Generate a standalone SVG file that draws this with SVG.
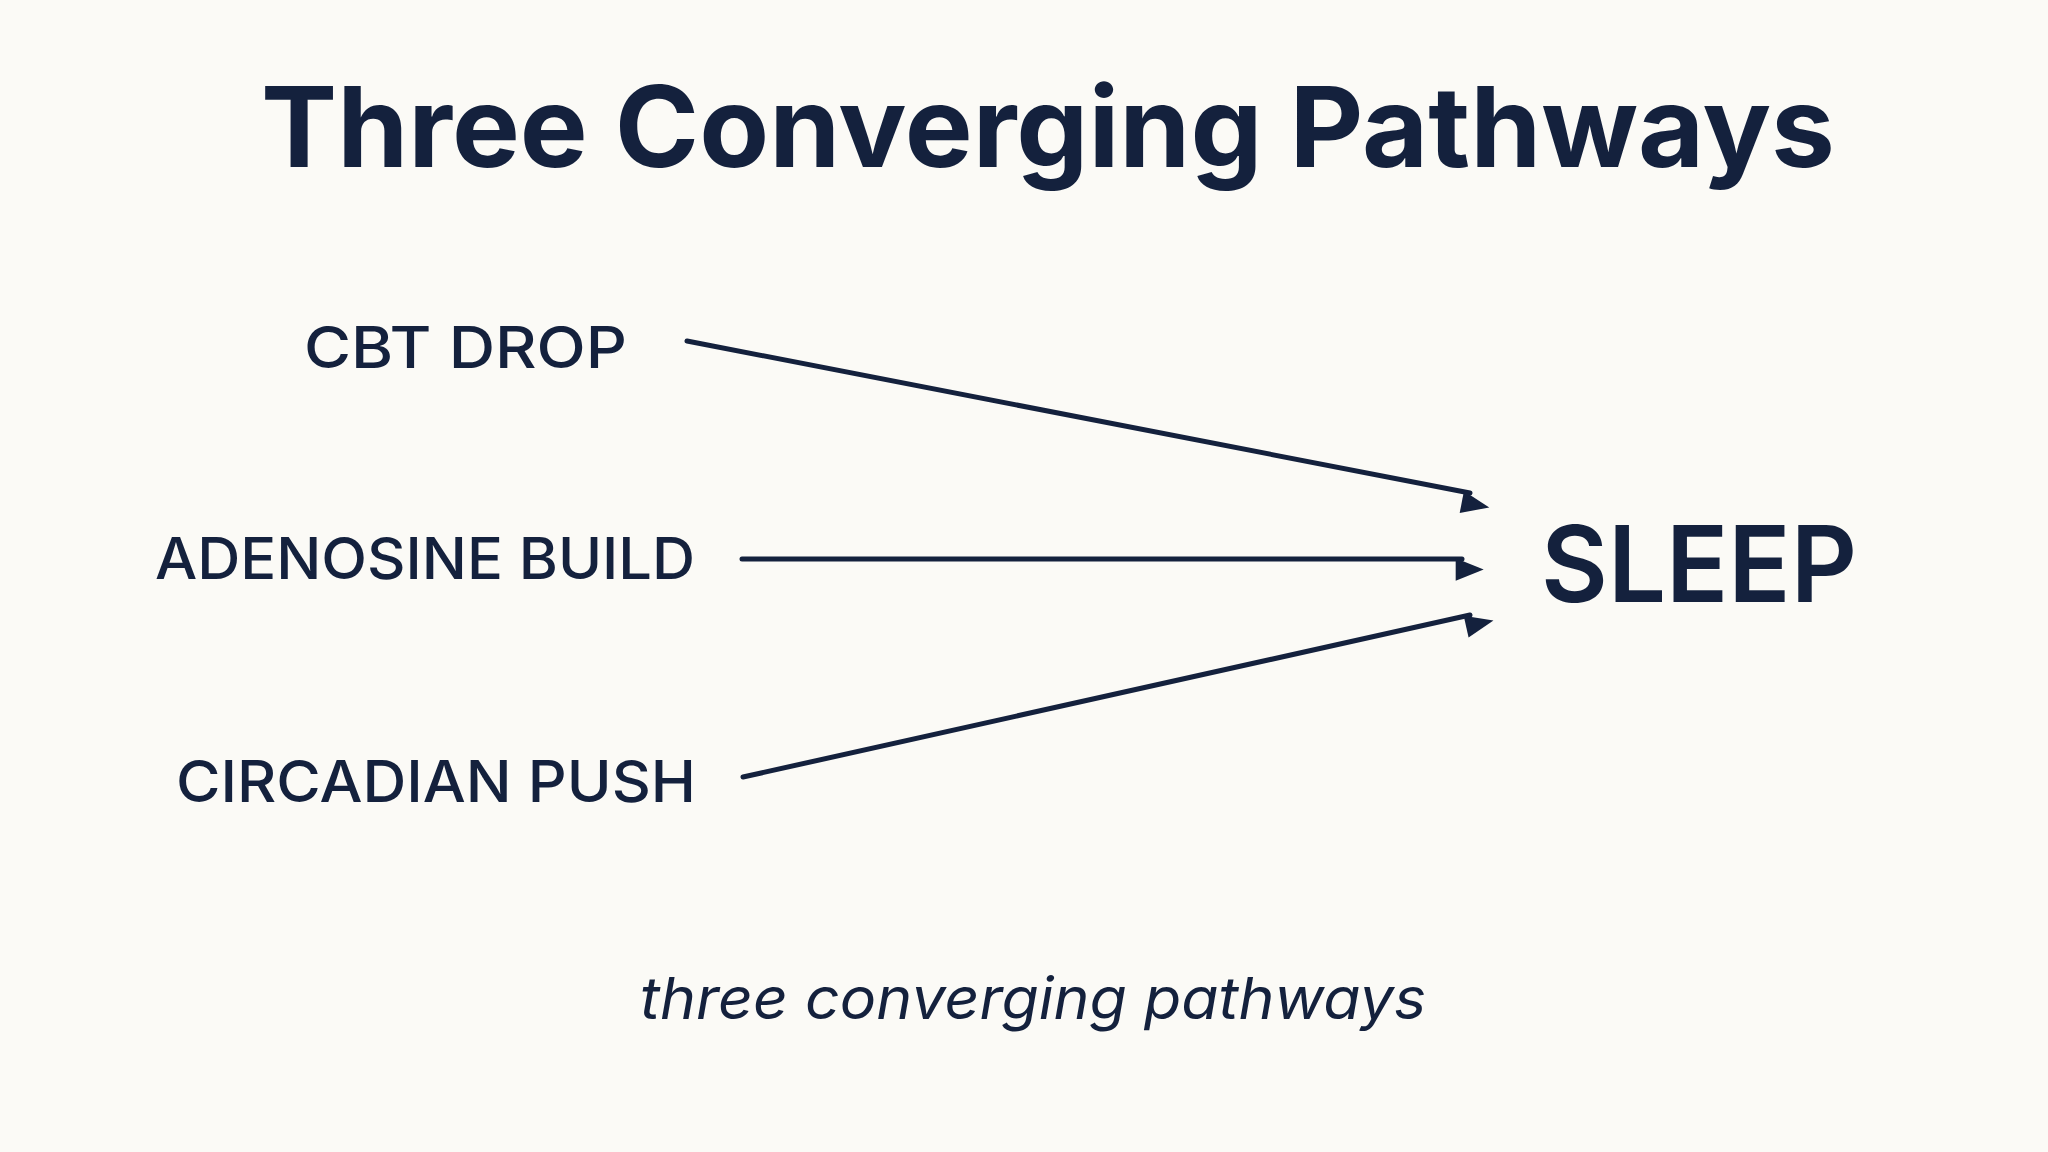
<svg xmlns="http://www.w3.org/2000/svg" width="2048" height="1152" viewBox="0 0 2048 1152">
<defs>
<style>
.t{font-family:"Inter","Liberation Sans",sans-serif;fill:#14213d}
.lbl{font-size:58px;font-weight:500}
.c{stroke:#14213d;stroke-width:5;stroke-linecap:round;fill:none}
</style>
<marker id="a" viewBox="0 0 10 10" refX="9" refY="5" markerWidth="7" markerHeight="7" markerUnits="userSpaceOnUse" orient="auto" style="overflow:visible">
<path d="M0,1 L10,5 L0,9 Z" fill="#14213d" transform="scale(4)"/>
</marker>
</defs>
<rect width="2048" height="1152" fill="#fbfaf6"/>
<text class="t" x="1048" y="167" text-anchor="middle" font-size="112" font-weight="700" textLength="1574" lengthAdjust="spacingAndGlyphs">Three Converging Pathways</text>
<g id="n1"><text class="t lbl" x="304" y="368" textLength="323" lengthAdjust="spacingAndGlyphs">CBT DROP</text></g>
<g id="n2"><text class="t lbl" x="155" y="579" textLength="540" lengthAdjust="spacingAndGlyphs">ADENOSINE BUILD</text></g>
<g id="n3"><text class="t lbl" x="176" y="802" textLength="520" lengthAdjust="spacingAndGlyphs">CIRCADIAN PUSH</text></g>
<g id="sleep"><text class="t" x="1541" y="602" font-size="106" font-weight="600" textLength="316" lengthAdjust="spacingAndGlyphs">SLEEP</text></g>
<g id="connectors">
<line class="c" x1="687" y1="341" x2="1470" y2="493" marker-end="url(#a)"/>
<line class="c" x1="742" y1="559" x2="1462" y2="559" marker-end="url(#a)"/>
<line class="c" x1="743" y1="777" x2="1470" y2="615" marker-end="url(#a)"/>
</g>
<text class="t" x="1033" y="1019" text-anchor="middle" font-size="58" font-style="italic" textLength="786" lengthAdjust="spacingAndGlyphs">three converging pathways</text>
</svg>
